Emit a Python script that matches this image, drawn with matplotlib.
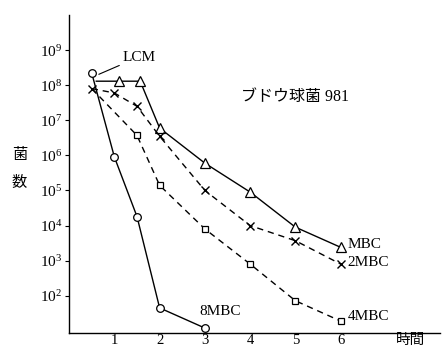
import matplotlib
matplotlib.use("Agg")
import matplotlib.pyplot as plt
from matplotlib.ticker import FixedLocator

plt.rcParams['font.family'] = ['Liberation Serif', 'Noto Sans CJK JP']
plt.rcParams['mathtext.fontset'] = 'stix'

# ── data ─────────────────────────────────────────────────────
time_8mbc = [0.5, 1, 1.5, 2, 3]
cfu_8mbc = [2.2e8, 9e5, 1.8e4, 45, 12]

time_mbc = [0.6, 1.1, 1.57, 2, 3, 4, 5, 6]
cfu_mbc = [1.3e8, 1.3e8, 1.3e8, 6e6, 6e5, 9e4, 9e3, 2.4e3]

time_2mbc = [0.5, 1, 1.5, 2, 3, 4, 5, 6]
cfu_2mbc = [8e7, 6e7, 2.5e7, 3.5e6, 1e5, 1e4, 3.7e3, 8e2]

time_4mbc = [0.5, 1.5, 2, 3, 4, 5, 6]
cfu_4mbc = [8e7, 3.7e6, 1.4e5, 8e3, 8e2, 72, 19]

x_ticks = [1, 2, 3, 4, 5, 6]
y_exps = [2, 3, 4, 5, 6, 7, 8, 9]

# ── figure ──────────────────────────────────────────────────
fig = plt.figure(figsize=(4.46, 3.49), dpi=100)
ax = fig.add_axes([0.155, 0.046, 0.832, 0.911])
ax.set_yscale('log')
ax.set_xlim(0, 8.2)
ax.set_ylim(10**0.94, 10**10)

k = 'black'
lw = 1.0
dash = (0, (4.5, 3.5))
ax.plot(time_8mbc, cfu_8mbc, color=k, lw=lw, marker='o', ms=5.5,
        mfc='white', mec=k, mew=0.9, zorder=3)
ax.plot(time_mbc, cfu_mbc, color=k, lw=lw, marker='^', ms=6.5,
        mfc='white', mec=k, mew=0.9, markevery=list(range(1, len(time_mbc))))
ax.plot(time_2mbc, cfu_2mbc, color=k, lw=lw, ls=dash, marker='x', ms=5.5,
        mec=k, mew=1.0)
ax.plot(time_4mbc, cfu_4mbc, color=k, lw=lw, ls=dash, marker='s', ms=5,
        mfc='white', mec=k, mew=0.9, markevery=list(range(1, len(time_4mbc))))

# axes styling
for s in ['top', 'right']:
    ax.spines[s].set_visible(False)
ax.spines['left'].set_linewidth(1.0)
ax.spines['bottom'].set_linewidth(1.0)
ax.xaxis.set_major_locator(FixedLocator(x_ticks))
ax.set_xticklabels([str(t) for t in x_ticks], fontsize=10.5)
ax.tick_params(axis='x', length=0, pad=1)
ax.yaxis.set_major_locator(FixedLocator([10.0**e for e in y_exps]))
ax.yaxis.set_minor_locator(FixedLocator([]))
ax.set_yticklabels([r'$\mathregular{10^{%d}}$' % e for e in y_exps], fontsize=11)
ax.tick_params(axis='y', length=3, width=0.8, pad=2)

# annotations
ax.annotate('LCM', xy=(0.6, 1.9e8), xytext=(1.17, 10**8.8), fontsize=11,
            va='center', ha='left',
            arrowprops=dict(arrowstyle='-', color=k, lw=0.8, shrinkA=0, shrinkB=2))
ax.text(3.8, 10**7.65, 'ブドウ球菌 981', fontsize=11.5, va='center', ha='left')
ax.text(6.15, 10**3.45, 'MBC', fontsize=11, va='center', ha='left')
ax.text(6.15, 10**2.95, '2MBC', fontsize=11, va='center', ha='left')
ax.text(6.15, 10**1.4, '4MBC', fontsize=11, va='center', ha='left')
ax.text(2.87, 10**1.55, '8MBC', fontsize=11, va='center', ha='left')
ax.text(7.55, 10**0.9, '時間', fontsize=10.5, va='top', ha='center')
ax.text(-1.1, 10**6.0, '菌', fontsize=11, va='center', ha='center')
ax.text(-1.1, 10**5.2, '数', fontsize=11, va='center', ha='center')

plt.savefig('out.png', dpi=100)
